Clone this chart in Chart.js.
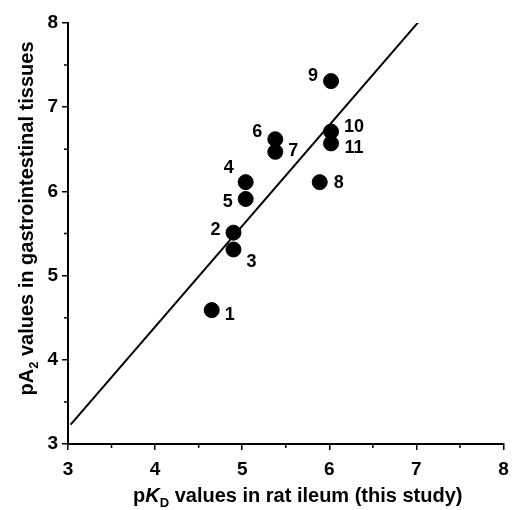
<!DOCTYPE html>
<html>
<head>
<meta charset="utf-8">
<script src="https://cdn.jsdelivr.net/npm/chart.js@4.4.1/dist/chart.umd.min.js"></script>
<style>
  html, body { margin: 0; padding: 0; background: #fff; }
  #wrap { width: 512px; height: 510px; }
</style>
</head>
<body>
<div id="wrap"><canvas id="c" width="512" height="510"></canvas></div>
<script>
// compound numbers and their affinity estimates
const compoundIds = ['1', '2', '3', '4', '5', '6', '7', '8', '9', '10', '11']
const pKdIleum    = [4.65, 4.90, 4.90, 5.04, 5.04, 5.38, 5.38, 5.89, 6.02, 6.02, 6.02]
const pA2Gut      = [4.59, 5.51, 5.31, 6.11, 5.91, 6.62, 6.47, 6.11, 7.31, 6.71, 6.57]

// regression line drawn across the plot
const fitX = [3.03, 7.03]
const fitY = [3.23, 8.02]

const axisTicks = [3, 4, 5, 6, 7, 8]

// where each number sits relative to its dot: [dx, dy] in px
const labelOffsets = [
  [18, 4], [-18, -4], [18, 12], [-17, -15], [-18, 2], [-18, -8],
  [18, -2], [19, 0], [-18, -6], [23, -6], [23, 4],
]

const FONT = '"Liberation Sans", Arial, Helvetica, sans-serif'

const pointLabels = {
  id: 'pointLabels',
  afterDatasetsDraw(chart) {
    const meta = chart.getDatasetMeta(1)
    const ctx = chart.ctx
    ctx.save()
    ctx.fillStyle = '#000'
    ctx.font = 'bold 18px ' + FONT
    ctx.textAlign = 'center'
    ctx.textBaseline = 'middle'
    meta.data.forEach((pt, i) => {
      const [dx, dy] = labelOffsets[i]
      ctx.fillText(compoundIds[i], pt.x + dx, pt.y + dy + 1)
    })
    ctx.restore()
  },
}

const minorTicks = {
  id: 'minorTicks',
  afterDraw(chart) {
    const { ctx, scales: { x, y } } = chart
    ctx.save()
    ctx.strokeStyle = '#000'
    ctx.lineWidth = 1.5
    ctx.beginPath()
    for (let v = 3.5; v < 8; v += 1) {
      const px = x.getPixelForValue(v)
      ctx.moveTo(px, y.bottom); ctx.lineTo(px, y.bottom + 4)
      const py = y.getPixelForValue(v)
      ctx.moveTo(x.left, py); ctx.lineTo(x.left - 4, py)
    }
    ctx.stroke()
    ctx.restore()
  },
}

// axis titles with italic / subscript pieces
function drawRich(ctx, parts, size) {
  let w = 0
  parts.forEach(p => {
    ctx.font = (p.italic ? 'italic ' : '') + 'bold ' + (p.sub ? size * 0.65 : size) + 'px ' + FONT
    p.w = ctx.measureText(p.t).width
    w += p.w
  })
  let cx = -w / 2
  parts.forEach(p => {
    ctx.font = (p.italic ? 'italic ' : '') + 'bold ' + (p.sub ? size * 0.65 : size) + 'px ' + FONT
    ctx.fillText(p.t, cx, p.sub ? size * 0.25 : 0)
    cx += p.w
  })
}

const axisTitles = {
  id: 'axisTitles',
  afterDraw(chart) {
    const ctx = chart.ctx
    const { x, y } = chart.scales
    ctx.save()
    ctx.fillStyle = '#000'
    ctx.textAlign = 'left'
    ctx.textBaseline = 'alphabetic'
    ctx.translate((x.left + x.right) / 2 + 12, 502)
    drawRich(ctx, [
      { t: 'p' }, { t: 'K', italic: true }, { t: 'D', sub: true },
      { t: ' values in rat ileum (this study)' },
    ], 20)
    ctx.restore()

    ctx.save()
    ctx.fillStyle = '#000'
    ctx.textAlign = 'left'
    ctx.textBaseline = 'alphabetic'
    ctx.translate(33, (y.top + y.bottom) / 2 - 15)
    ctx.rotate(-Math.PI / 2)
    drawRich(ctx, [
      { t: 'pA' }, { t: '2', sub: true },
      { t: ' values in gastrointestinal tissues' },
    ], 20)
    ctx.restore()
  },
}

const axisCommon = {
  type: 'linear',
  min: 3,
  max: 8,
  border: { display: true, color: '#000', width: 2 },
  grid: {
    drawOnChartArea: false,
    drawTicks: true,
    tickLength: 6,
    color: '#000',
    lineWidth: 1.5,
  },
  ticks: {
    stepSize: 1,
    color: '#000',
    font: { family: FONT, size: 19, weight: 'bold' },
  },
}

new Chart(document.getElementById('c'), {
  type: 'scatter',
  data: {
    datasets: [
      {
        type: 'line',
        data: fitX.map((v, i) => ({ x: v, y: fitY[i] })),
        borderColor: '#000',
        borderWidth: 2,
        pointRadius: 0,
        fill: false,
      },
      {
        data: pKdIleum.map((v, i) => ({ x: v, y: pA2Gut[i] })),
        backgroundColor: '#000',
        borderColor: '#000',
        pointRadius: 7.5,
        pointHoverRadius: 7.5,
      },
    ],
  },
  options: {
    responsive: false,
    animation: false,
    devicePixelRatio: 1,
    layout: { padding: { top: 23, right: 2, left: 0, bottom: 0 } },
    plugins: {
      legend: { display: false },
      tooltip: { enabled: false },
    },
    scales: {
      x: {
        ...axisCommon,
        afterFit(s) { s.height = 66; s.paddingRight = 6 },
        ticks: { ...axisCommon.ticks, padding: 8, callback: v => axisTicks.includes(v) ? v : '' },
      },
      y: {
        ...axisCommon,
        afterFit(s) { s.width = 68 },
        ticks: { ...axisCommon.ticks, padding: 4, callback: v => axisTicks.includes(v) ? v : '' },
      },
    },
  },
  plugins: [pointLabels, minorTicks, axisTitles],
})
</script>
</body>
</html>
